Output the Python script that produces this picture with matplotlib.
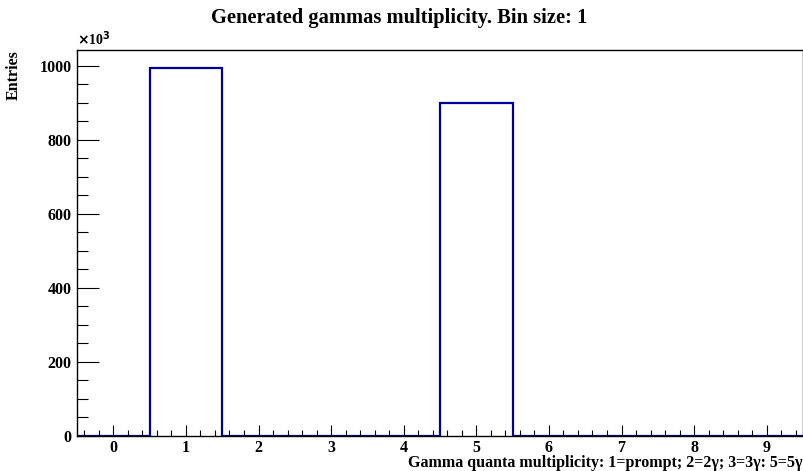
import numpy as np
import matplotlib
matplotlib.use("Agg")
import matplotlib.pyplot as plt
from matplotlib.ticker import MultipleLocator

# --- datos del histograma (multiplicidad de gammas) ---
bordes = np.arange(-0.5, 10.0, 1.0)
entradas = [0, 993000, 0, 0, 0, 899000, 0, 0, 0, 0]
escala = 1e3
y_max = 1043

titulo = "Generated gammas multiplicity. Bin size: 1"
etiqueta_x = "Gamma quanta multiplicity: 1=prompt; 2=2\u03b3; 3=3\u03b3: 5=5\u03b3"
etiqueta_y = "Entries"

plt.rcParams['font.family'] = ['Liberation Serif', 'DejaVu Serif']
plt.rcParams['font.weight'] = 'bold'

fig = plt.figure(figsize=(8.04, 4.71), dpi=100)
ax = fig.add_axes([77 / 804, 1 - 435.5 / 471, 726 / 804, 385.5 / 471])

valores = np.array(entradas) / escala
ax.stairs(valores, bordes, color='#000099', lw=1.6, baseline=0)

ax.set_xlim(bordes[0], bordes[-1])
ax.set_ylim(0, y_max)

ax.xaxis.set_major_locator(MultipleLocator(1))
ax.xaxis.set_minor_locator(MultipleLocator(0.2))
ax.yaxis.set_major_locator(MultipleLocator(200))
ax.yaxis.set_minor_locator(MultipleLocator(50))

ax.tick_params(axis='x', which='major', direction='in', length=8, width=0.8,
               labelsize=11.5, pad=3)
ax.tick_params(axis='x', which='minor', direction='in', length=4, width=0.8)
ax.tick_params(axis='y', which='major', direction='in', length=16, width=0.8,
               labelsize=11.5, pad=4)
ax.tick_params(axis='y', which='minor', direction='in', length=8, width=0.8)
for lbl in ax.get_xticklabels() + ax.get_yticklabels():
    lbl.set_fontweight('bold')

for s in ax.spines.values():
    s.set_linewidth(1.0)

fig.text(0.497, 1 - 18 / 471, titulo, ha='center', va='center',
         fontsize=14.8, fontweight='bold')
fig.text(803 / 804, 1 - 463 / 471, etiqueta_x, ha='right', va='center',
         fontsize=11.5, fontweight='bold')
fig.text(14 / 804, 1 - 50 / 471, etiqueta_y, ha='center', va='top',
         rotation=90, fontsize=11.5, fontweight='bold')
fig.text(77 / 804, 1 - 48 / 471, r"$\times$10$^{3}$", ha='left', va='bottom',
         fontsize=10)

fig.savefig("out.png", dpi=100)
